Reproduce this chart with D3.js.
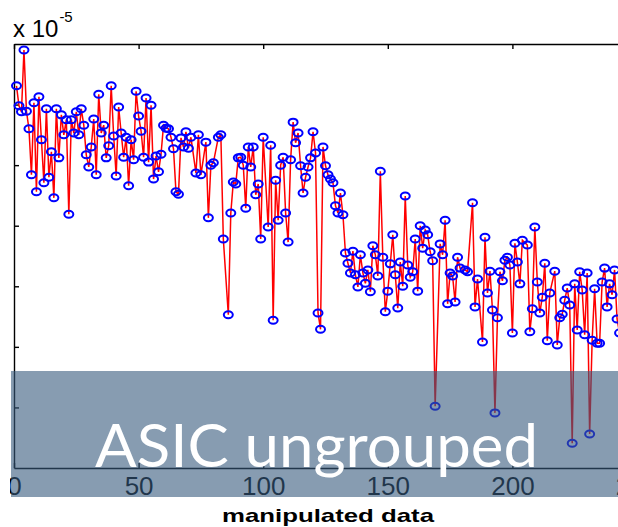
<!DOCTYPE html>
<html>
<head>
<meta charset="utf-8">
<script src="https://cdn.jsdelivr.net/npm/d3@7"></script>
<style>
  body { margin: 0; background: #ffffff; }
  svg { display: block; }
</style>
</head>
<body>
<div id="chart"></div>
<script>
/* ********* data (values are x 10^-5) ********* */
var samples = [
  1,2,3,4,5,6,7,8,9,10,
  11,12,13,14,15,16,17,18,19,20,
  21,22,23,24,25,26,27,28,29,30,
  31,32,33,34,35,36,37,38,39,40,
  41,42,43,44,45,46,47,48,49,50,
  51,52,53,54,55,56,57,58,59,60,
  61,62,63,64,65,66,67,68,69,70,
  71,73,74,75,77,78,79,80,82,83,
  84,86,87,88,89,90,91,92,93,94,
  95,96,97,98,99,100,102,103,104,105,
  106,107,108,109,110,111,112,113,114,115,
  116,117,118,119,120,121,122,123,124,125,
  126,127,128,129,130,131,132,133,134,135,
  136,137,138,139,140,141,142,143,144,145,
  146,147,148,149,150,151,152,153,154,155,
  156,157,158,159,160,161,162,163,164,165,
  166,167,168,169,171,172,173,174,175,176,
  177,178,179,181,182,184,185,186,188,189,
  190,191,192,193,194,195,196,197,198,199,
  200,201,202,203,204,206,207,208,209,210,
  211,212,213,214,215,217,218,219,220,221,
  222,223,224,225,226,227,228,229,230,231,
  232,233,234,235,236,237,238,239,240,241,
  242,243
];
var values = [
  6.31,5.98,5.88,6.90,5.89,5.60,4.84,6.03,4.56,6.13,
  5.42,4.71,5.93,4.80,5.22,4.46,5.93,5.12,5.83,5.50,
  5.75,4.19,5.75,5.53,5.88,5.50,5.93,5.66,5.17,4.97,
  5.30,5.76,4.84,6.17,5.53,5.66,5.12,5.32,6.31,5.48,
  4.82,5.96,5.53,5.13,5.46,4.66,5.42,5.09,6.22,5.81,
  5.56,5.13,6.11,5.05,5.99,4.77,5.15,4.89,5.18,5.66,
  5.61,5.60,5.46,5.27,4.56,4.52,5.45,5.30,5.55,5.28,
  5.46,4.87,5.50,4.84,5.38,4.13,5.00,5.04,5.46,5.50,
  3.78,2.53,4.21,4.72,4.69,5.12,5.13,5.00,4.29,5.30,
  4.97,5.30,4.51,4.69,3.78,5.46,3.98,5.33,2.44,4.75,
  4.09,5.00,5.13,4.21,3.73,5.09,5.71,5.37,5.53,4.99,
  4.54,4.80,4.97,5.12,5.55,5.20,2.56,2.29,5.30,4.99,
  4.84,4.77,4.71,4.33,4.21,4.54,4.18,3.55,3.38,3.22,
  3.58,3.19,2.99,3.52,3.22,3.05,3.27,2.91,3.67,3.52,
  3.17,4.90,3.48,2.58,2.92,3.37,3.85,3.19,2.64,3.40,
  3.00,4.49,3.35,3.15,3.24,3.78,2.92,4.00,3.63,3.93,
  3.85,3.57,3.42,1.02,3.70,3.52,4.09,2.71,3.22,3.17,
  2.74,3.48,3.30,3.27,3.24,4.38,2.66,3.12,2.08,3.81,
  2.89,3.25,2.61,0.91,2.48,3.24,3.09,3.43,3.48,3.35,
  2.23,3.71,3.40,3.04,3.76,3.68,2.25,2.63,3.98,3.07,
  2.56,2.82,3.38,2.10,2.89,3.25,2.03,2.48,2.54,2.77,
  2.97,2.69,0.41,3.04,2.28,3.24,2.94,2.20,3.22,0.56,
  2.11,2.96,2.06,2.06,3.07,3.30,2.66,3.04,2.86,3.27,
  2.46,2.23
];
var xTicks = [0, 50, 100, 150, 200, 250];
var yTicks = [1, 2, 3, 4, 5, 6];
var scaleBase = "x 10";
var scalePower = "-5";
var xTitle = "manipulated data";
var caption = "ASIC ungrouped";

/* ********* set up ********* */
var w = 618, h = 527;
var x = d3.scaleLinear().domain([0, 250]).range([14, 637]);
var y = d3.scaleLinear().domain([0, 7]).range([468, 44]);

var svg = d3.select("#chart").append("svg")
  .attr("width", w)
  .attr("height", h);

svg.append("rect")
  .attr("width", w)
  .attr("height", h)
  .attr("fill", "#ffffff");

svg.append("clipPath")
  .attr("id", "crop")
  .append("rect")
    .attr("x", 10)
    .attr("y", 0)
    .attr("width", w - 10)
    .attr("height", h);

var plot = svg.append("g")
  .attr("clip-path", "url(#crop)");

/* ********* axes (matlab style, ticks inward) ********* */
var bottom = plot.append("g")
  .attr("transform", "translate(0," + y(0) + ")")
  .call(d3.axisBottom(x).tickValues(xTicks).tickSizeInner(-5).tickSizeOuter(0).tickPadding(9));

var top = plot.append("g")
  .attr("transform", "translate(0," + y(7) + ")")
  .call(d3.axisTop(x).tickValues(xTicks).tickSizeInner(-5).tickSizeOuter(0).tickFormat(""));

var left = plot.append("g")
  .attr("transform", "translate(" + x(0) + ",0)")
  .call(d3.axisLeft(y).tickValues(yTicks).tickSizeInner(-5).tickSizeOuter(0).tickFormat(""));

plot.selectAll(".domain")
  .attr("stroke", "#000")
  .attr("stroke-width", 1.4);
plot.selectAll(".tick line")
  .attr("stroke", "#000")
  .attr("stroke-width", 1.4);

bottom.selectAll("text")
  .attr("font-family", "'Liberation Sans', Arial, sans-serif")
  .attr("font-size", 26)
  .attr("fill", "#000");

/* ********* series ********* */
var points = samples.map(function(s, i) { return { s: s, v: values[i] }; });

plot.append("path")
  .datum(points)
  .attr("fill", "none")
  .attr("stroke", "#ff0000")
  .attr("stroke-width", 1.5)
  .attr("d", d3.line()
    .x(function(d) { return x(d.s); })
    .y(function(d) { return y(d.v); }));

plot.selectAll("ellipse.pt")
  .data(points)
  .enter().append("ellipse")
    .attr("class", "pt")
    .attr("cx", function(d) { return x(d.s); })
    .attr("cy", function(d) { return y(d.v); })
    .attr("rx", 4.5)
    .attr("ry", 3.5)
    .attr("fill", "none")
    .attr("stroke", "#0000ff")
    .attr("stroke-width", 2);

/* ********* exponent label ********* */
var expo = svg.append("text")
  .attr("x", 13)
  .attr("y", 37)
  .attr("font-family", "'Liberation Sans', Arial, sans-serif")
  .attr("font-size", 24)
  .attr("fill", "#000");
expo.append("tspan").text(scaleBase);
expo.append("tspan")
  .attr("font-size", 15)
  .attr("dy", -15)
  .attr("dx", 1)
  .text(scalePower);

/* ********* x title ********* */
svg.append("text")
  .attr("x", 328)
  .attr("y", 522)
  .attr("text-anchor", "middle")
  .attr("font-family", "'Liberation Sans', Arial, sans-serif")
  .attr("font-weight", "bold")
  .attr("font-size", 19)
  .attr("textLength", 212)
  .attr("lengthAdjust", "spacingAndGlyphs")
  .attr("fill", "#000")
  .text(xTitle);

/* ********* caption band ********* */
svg.append("rect")
  .attr("x", 11)
  .attr("y", 371)
  .attr("width", w - 11)
  .attr("height", 126)
  .attr("fill", "rgb(55,90,125)")
  .attr("fill-opacity", 0.6);

svg.append("text")
  .attr("x", 95)
  .attr("y", 467)
  .attr("font-family", "Lato, 'Open Sans', sans-serif")
  .attr("font-size", 60)
  .attr("textLength", 443)
  .attr("lengthAdjust", "spacingAndGlyphs")
  .attr("fill", "#ffffff")
  .text(caption);
</script>
</body>
</html>
